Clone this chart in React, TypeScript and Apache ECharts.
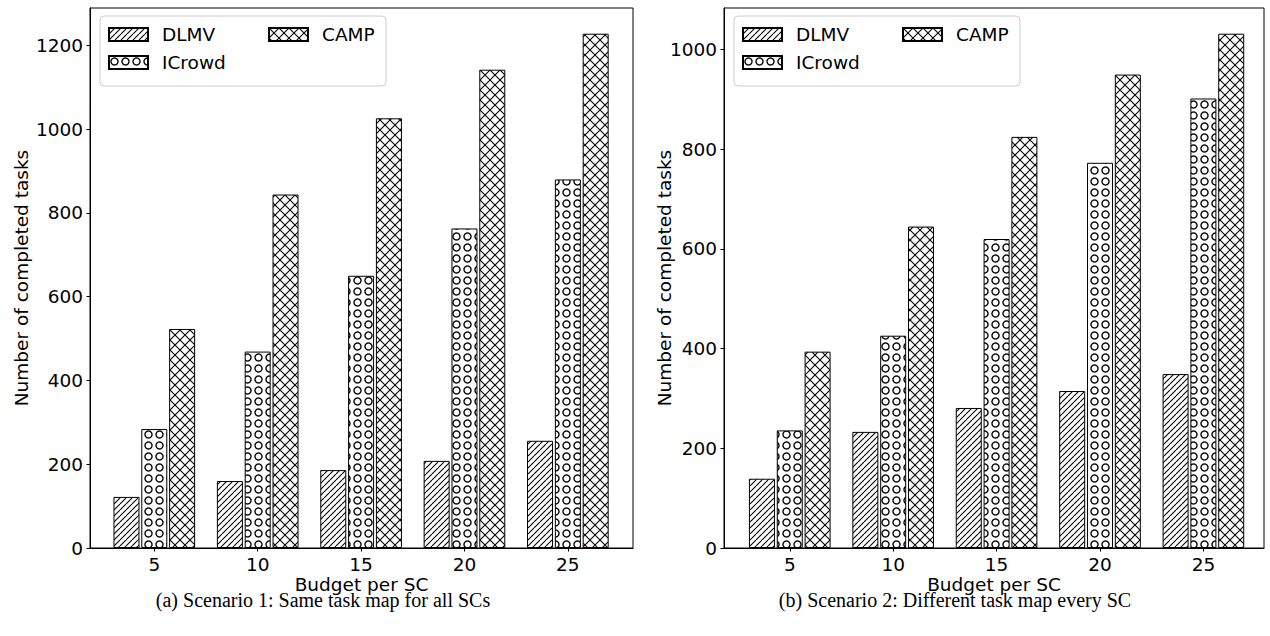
import React, { useEffect, useRef } from "react";
import * as echarts from "echarts";

const budgets = [5, 10, 15, 20, 25];
const seriesNames = ["DLMV", "ICrowd", "CAMP"];

const dlmv1 = [122, 160, 186, 208, 256];
const icrowd1 = [284, 469, 650, 763, 880];
const camp1 = [523, 844, 1026, 1142, 1228];

const dlmv2 = [139, 233, 281, 315, 349];
const icrowd2 = [236, 426, 620, 773, 902];
const camp2 = [394, 645, 825, 950, 1032];

const yTicks1 = [0, 200, 400, 600, 800, 1000, 1200];
const yTicks2 = [0, 200, 400, 600, 800, 1000];

const xName = "Budget per SC";
const yName = "Number of completed tasks";
const captionA = "(a) Scenario 1: Same task map for all SCs";
const captionB = "(b) Scenario 2: Different task map every SC";

const FONT = "DejaVu Sans";

function makePattern(kind: string) {
  const s = kind === "hatch" ? 6 : kind === "circle" ? 11 : 10;
  const k = 4;
  const c = document.createElement("canvas");
  c.width = Math.round(s * k);
  c.height = Math.round(s * k);
  const g = c.getContext("2d")!;
  g.scale(k, k);
  g.fillStyle = "#fff";
  g.fillRect(0, 0, s, s);
  g.strokeStyle = "#000";
  g.lineWidth = 1.05;
  if (kind === "hatch" || kind === "cross") {
    for (const o of [-s, 0, s]) {
      g.beginPath();
      g.moveTo(o, s);
      g.lineTo(o + s, 0);
      g.stroke();
    }
  }
  if (kind === "cross") {
    for (const o of [-s, 0, s]) {
      g.beginPath();
      g.moveTo(o, 0);
      g.lineTo(o + s, s);
      g.stroke();
    }
  }
  if (kind === "circle") {
    g.lineWidth = 1.35;
    g.beginPath();
    g.arc(s / 2, s / 2, 3.5, 0, Math.PI * 2);
    g.stroke();
  }
  return { image: c, repeat: "repeat", imageWidth: s, imageHeight: s };
}

export default function App() {
  const ref = useRef<HTMLDivElement>(null);
  useEffect(() => {
    if (!ref.current) return;
    const chart = echarts.init(ref.current, null, { renderer: "svg" });
    const patterns = [makePattern("hatch"), makePattern("circle"), makePattern("cross")];

    const grids = [
      { left: 90, width: 543, xmin: 1.89, xmax: 28.15, data: [dlmv1, icrowd1, camp1], ticks: yTicks1, nameGap: 59, cap: captionA, capX: 323 },
      { left: 724, width: 540, xmin: 1.82, xmax: 27.93, data: [dlmv2, icrowd2, camp2], ticks: yTicks2, nameGap: 50, cap: captionB, capX: 955 },
    ];

    const textStyle = { fontFamily: FONT, fontSize: 18.5, color: "#000" };
    const fmt = (v: number) => String(Math.round(v));

    const option: any = {
      animation: false,
      grid: grids.map((g) => ({
        left: g.left,
        width: g.width,
        top: 8,
        height: 540,
        show: true,
        borderColor: "#000",
        borderWidth: 1,
        backgroundColor: "transparent",
        containLabel: false,
      })),
      xAxis: grids.map((g, i) => ({
        type: "value",
        gridIndex: i,
        min: g.xmin,
        max: g.xmax,
        name: xName,
        nameLocation: "middle",
        nameGap: 27,
        nameMoveOverlap: false,
        nameTextStyle: textStyle,
        axisLine: { show: true, lineStyle: { color: "#000", width: 1 } },
        axisTick: { show: true, length: 3.5, customValues: budgets, lineStyle: { color: "#000" } },
        axisLabel: { show: true, margin: 7, customValues: budgets, formatter: fmt, ...textStyle },
        splitLine: { show: false },
      })),
      yAxis: grids.map((g, i) => {
        const maxVal = Math.max(...g.data.map((d) => Math.max(...d))) * 1.05;
        return {
          type: "value",
          gridIndex: i,
          min: 0,
          max: maxVal,
          name: yName,
          nameLocation: "middle",
          nameRotate: 90,
          nameGap: g.nameGap,
          nameMoveOverlap: false,
          nameTextStyle: textStyle,
          axisLine: { show: true, lineStyle: { color: "#000", width: 1 } },
          axisTick: { show: true, length: 3.5, customValues: g.ticks, lineStyle: { color: "#000" } },
          axisLabel: { show: true, margin: 7, customValues: g.ticks, formatter: fmt, ...textStyle },
          splitLine: { show: false },
        };
      }),
      legend: grids.flatMap((g) => [
        {
          orient: "vertical",
          left: g.left + 18,
          top: 25,
          data: [seriesNames[0], seriesNames[1]],
          itemGap: 9,
          itemWidth: 39,
          itemHeight: 13,
          icon: "rect",
          selectedMode: false,
          padding: 0,
          textStyle: { ...textStyle, padding: [0, 0, 0, 9] },
          z: 10,
        },
        {
          orient: "vertical",
          left: g.left + 178,
          top: 25,
          data: [seriesNames[2]],
          itemGap: 9,
          itemWidth: 39,
          itemHeight: 13,
          icon: "rect",
          selectedMode: false,
          padding: 0,
          textStyle: { ...textStyle, padding: [0, 0, 0, 9] },
          z: 10,
        },
      ]),
      graphic: [
        ...grids.map((g) => ({
          type: "rect",
          z: 5,
          shape: { x: g.left + 10, y: 16, width: 286, height: 70, r: 4 },
          style: { fill: "rgba(255,255,255,0.85)", stroke: "#cccccc", lineWidth: 1 },
        })),
        ...grids.map((g) => ({
          type: "text",
          x: g.capX,
          y: 600,
          style: {
            text: g.cap,
            font: '20px "Liberation Serif"',
            fill: "#000",
            textAlign: "center",
            textVerticalAlign: "middle",
            align: "center",
            verticalAlign: "middle",
          },
        })),
      ],
      series: grids.flatMap((g, gi) =>
        seriesNames.map((name, si) => ({
          type: "bar",
          name,
          xAxisIndex: gi,
          yAxisIndex: gi,
          data: budgets.map((b, k) => [b, g.data[si][k]]),
          barWidth: 26,
          barGap: "7%",
          itemStyle: { color: patterns[si], borderColor: "#000", borderWidth: 1 },
          emphasis: { disabled: true },
        }))
      ),
    };
    chart.setOption(option);
    return () => chart.dispose();
  }, []);
  return (
    <div
      ref={ref}
      style={{ position: "absolute", left: 0, top: 0, width: 1270, height: 636, background: "#fff" }}
    />
  );
}
